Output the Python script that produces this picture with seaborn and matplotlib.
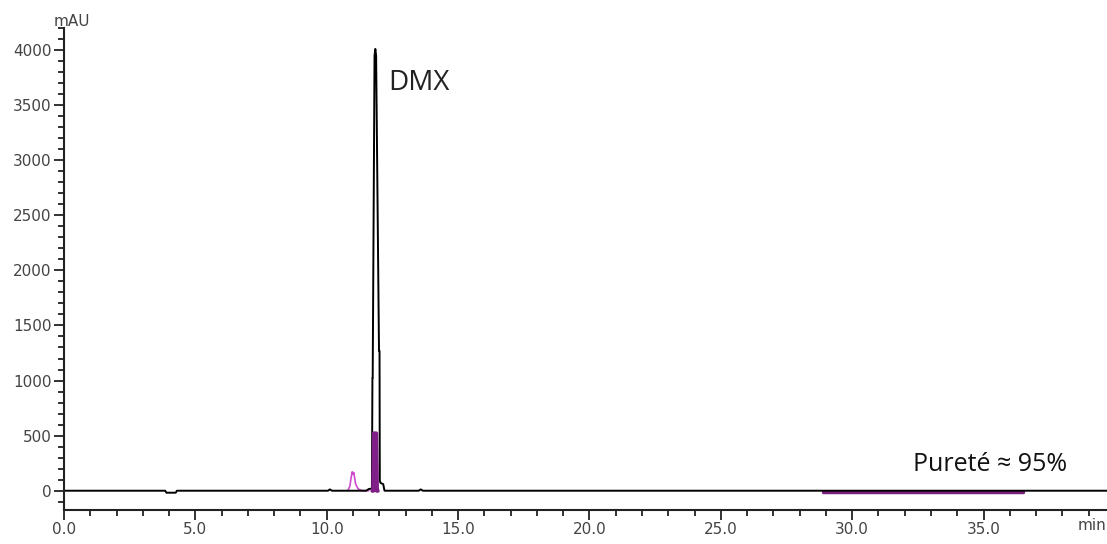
import numpy as np
import pandas as pd
import matplotlib
matplotlib.use("Agg")
import matplotlib.pyplot as plt
from matplotlib.ticker import MultipleLocator, FormatStrFormatter
import seaborn as sns

# Black trace (main detector signal)
black_t = [0.0, 3.85, 3.9, 4.25, 4.3, 10.05, 10.12, 10.2, 11.5, 11.6, 11.72,
           11.74, 11.75, 11.82, 11.85, 11.88, 11.99, 12.01, 12.02, 12.05,
           12.15, 12.2, 13.5, 13.58, 13.66, 39.7]
black_y = [0, 0, -18, -18, 0, 0, 12, 0, 0, 15, 20,
           1025, 1025, 3950, 4010, 3950, 1270, 1270, 90, 70,
           60, 0, 0, 12, 0, 0]

# Magenta trace (second wavelength): small peak before DMX and the DMX peak
mag_small_t = [10.8, 10.88, 10.93, 10.97, 11.0, 11.03, 11.1, 11.2, 11.35, 11.6]
mag_small_y = [0, 40, 120, 172, 150, 165, 60, 15, 0, 0]
mag_main_t = [11.74, 11.77, 11.78, 11.8, 11.88, 11.9, 11.91, 11.94]
mag_main_y = [0, 0, 200, 520, 520, 200, 0, 0]
plateau_t = [28.9, 36.5]
plateau_y = [-12, -12]

fig = plt.figure(figsize=(11.07, 5.44), dpi=100)
ax = fig.add_axes([64 / 1107, 1 - 510 / 544, 1 - 64 / 1107, (510 - 28) / 544])
sns.set_style("white")

# Magenta trace
sns.lineplot(x=mag_small_t, y=mag_small_y, color="#d04ad0", lw=1.2,
             estimator=None, sort=False, ax=ax)
sns.lineplot(x=plateau_t, y=plateau_y, color="#7a1f7a", lw=2.5,
             estimator=None, sort=False, ax=ax)

# Black trace
sns.lineplot(x=black_t, y=black_y, color="black", lw=1.4,
             estimator=None, sort=False, ax=ax)

# DMX peak on the magenta channel, drawn on top
sns.lineplot(x=mag_main_t, y=mag_main_y, color="#7f1f87", lw=3,
             estimator=None, sort=False, ax=ax)

ax.set_xlim(0, 39.7)
ax.set_ylim(-175, 4200)
ax.set_xlabel("")
ax.set_ylabel("")

for s in ["top", "right"]:
    ax.spines[s].set_visible(False)
for s in ["left", "bottom"]:
    ax.spines[s].set_color("#222222")
    ax.spines[s].set_linewidth(1.5)

ax.xaxis.set_major_locator(MultipleLocator(5))
ax.xaxis.set_minor_locator(MultipleLocator(1))
ax.xaxis.set_major_formatter(FormatStrFormatter("%.1f"))
ax.set_xticks(np.arange(0, 36, 5))
ax.yaxis.set_major_locator(MultipleLocator(500))
ax.yaxis.set_minor_locator(MultipleLocator(100))
ax.tick_params(which="both", direction="out", colors="#222222", width=1.3,
               labelcolor="#444444", labelsize=11, pad=2)
ax.tick_params(which="major", length=7)
ax.tick_params(which="minor", length=4)
ax.tick_params(axis="x", bottom=True, which="both")
ax.tick_params(axis="y", left=True, which="both")

# Axis units, as on the instrument printout
fig.text(54 / 1107, 1 - 22 / 544, "mAU", fontsize=11, color="#444444",
         ha="left", va="center")
ax.text(38.6, -250, "min", fontsize=11, color="#444444", ha="left", va="top")

# Annotations
ax.text(12.35, 3700, "DMX", fontsize=20, family="Open Sans", color="#222222",
        ha="left", va="center")
ax.text(32.3, 240, "Pureté ≈ 95%", fontsize=18, family="Open Sans",
        color="#111111", ha="left", va="center")

fig.savefig("out.png", dpi=100)
